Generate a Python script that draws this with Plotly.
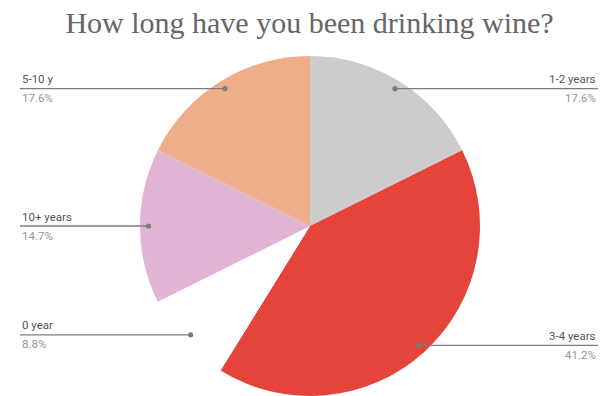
import math
import plotly.graph_objects as go

# ---- data ----
labels = ["1-2 years", "3-4 years", "0 year", "10+ years", "5-10 y"]
counts = [6, 14, 3, 5, 6]
colors = ["#cccccc", "#e4443a", "#ffffff", "#e1b4d4", "#eeae89"]
title_text = "How long have you been drinking wine?"

W, H = 601, 396
CX, CY, R = 310, 226, 170
DOT_R = 0.95 * R
LEFT_X, RIGHT_X = 20, 598
LEADER = "#7d7d7d"

fig = go.Figure()
fig.add_trace(go.Pie(
    labels=labels, values=counts, sort=False, direction="clockwise", rotation=0,
    marker=dict(colors=colors, line=dict(width=0)),
    textinfo="none", showlegend=False,
    domain=dict(x=[(CX - R) / W, (CX + R) / W],
                y=[max(0.0, (H - CY - R) / H), min(1.0, (H - CY + R) / H)]),
))
# invisible cartesian frame in pixel units for leader lines
fig.add_trace(go.Scatter(x=[0, W], y=[0, H], mode="markers", marker=dict(opacity=0),
                         showlegend=False, hoverinfo="skip"))

total = sum(counts)
cum = 0
annotations, shapes = [], []
for lab, c in zip(labels, counts):
    mid = (cum + c / 2) / total * 2 * math.pi
    cum += c
    px = CX + DOT_R * math.sin(mid)
    py = CY - DOT_R * math.cos(mid)   # screen y grows downward
    right = math.sin(mid) > 0
    ex = RIGHT_X if right else LEFT_X
    shapes.append(dict(type="line", xref="x", yref="y", x0=ex, x1=px, y0=py, y1=py,
                       line=dict(color=LEADER, width=1.3), layer="above"))
    shapes.append(dict(type="circle", xref="x", yref="y", x0=px - 2.6, x1=px + 2.6,
                       y0=py - 2.6, y1=py + 2.6, fillcolor=LEADER, line=dict(width=0),
                       layer="above"))
    pct = f"{100 * c / total:.1f}%"
    anchor = "right" if right else "left"
    annotations.append(dict(x=ex, y=py - 0.5, xref="x", yref="y", text=lab, showarrow=False,
                            xanchor=anchor, yanchor="bottom",
                            font=dict(family="Roboto", size=11.5, color="#555555")))
    annotations.append(dict(x=ex, y=py + 0.5, xref="x", yref="y", text=pct, showarrow=False,
                            xanchor=anchor, yanchor="top",
                            font=dict(family="Roboto", size=11.5, color="#959595")))

fig.update_layout(
    width=W, height=H, margin=dict(l=0, r=0, t=0, b=0),
    paper_bgcolor="white", plot_bgcolor="rgba(0,0,0,0)",
    title=dict(text=title_text, x=0.515, xanchor="center", y=1 - 22 / H, yanchor="middle",
               font=dict(family="Liberation Serif", size=30, color="#666666")),
    xaxis=dict(range=[0, W], visible=False, fixedrange=True, domain=[0, 1]),
    yaxis=dict(range=[H, 0], visible=False, fixedrange=True, domain=[0, 1]),
    annotations=annotations, shapes=shapes,
)
fig.write_html("out.html", config={"displayModeBar": False},
               post_script="document.body.style.margin='0';document.body.style.overflow='hidden';")
